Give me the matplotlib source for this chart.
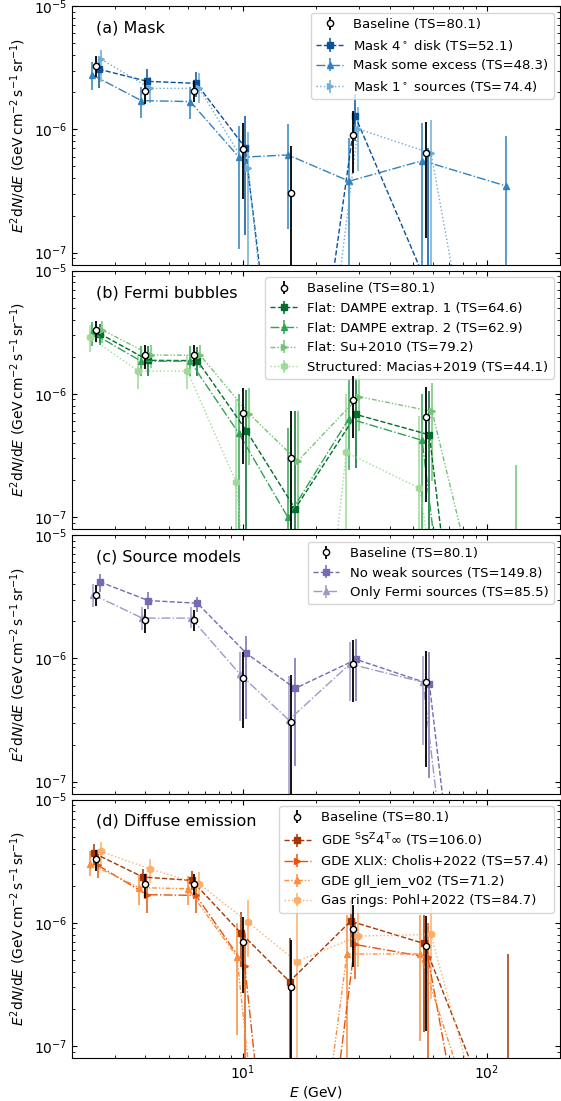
import numpy as np
import matplotlib
matplotlib.use("Agg")
import matplotlib.pyplot as plt

# ─── Data ───
# energy bin centres (GeV)
energy = [2.51, 3.98, 6.31, 10.0, 15.85, 28.2, 56.2, 124.0]

# baseline (shown in every panel)
base_val = [3.28e-6, 2.05e-6, 2.06e-6, 6.97e-7, 3.03e-7, 8.94e-7, 6.43e-7, 1e-12]
base_lo = [2.64e-6, 1.60e-6, 1.68e-6, 2.70e-7, 1e-9, 4.40e-7, 1.32e-7, 1e-12]
base_hi = [3.93e-6, 2.51e-6, 2.48e-6, 1.12e-6, 7.30e-7, 1.40e-6, 1.14e-6, 1e-12]

# (a) Mask
mask4_val = [3.08e-6, 2.45e-6, 2.36e-6, 7.10e-7, 3.6e-10, 1.28e-6, 5.2e-8, 1e-12]
mask4_lo = [2.17e-6, 1.90e-6, 1.84e-6, 1.40e-7, 1e-12, 8.0e-7, 1e-12, 1e-12]
mask4_hi = [3.88e-6, 3.08e-6, 2.93e-6, 1.28e-6, 3.6e-10, 1.95e-6, 7.0e-7, 1e-12]

excess_val = [2.76e-6, 1.71e-6, 1.68e-6, 5.93e-7, 6.20e-7, 3.80e-7, 5.57e-7, 3.47e-7]
excess_lo = [2.09e-6, 1.23e-6, 1.22e-6, 1.08e-7, 1.55e-7, 1e-9, 1e-9, 1e-9]
excess_hi = [3.50e-6, 2.20e-6, 2.20e-6, 1.06e-6, 1.10e-6, 8.5e-7, 1.13e-6, 8.8e-7]

src1_val = [3.70e-6, 2.15e-6, 2.15e-6, 4.83e-7, 1e-10, 1.01e-6, 6.38e-7, 1.1e-10]
src1_lo = [2.40e-6, 1.63e-6, 1.63e-6, 1e-9, 1e-12, 4.6e-7, 1e-9, 1e-12]
src1_hi = [4.40e-6, 2.65e-6, 2.85e-6, 9.6e-7, 1e-10, 1.53e-6, 1.19e-6, 1.1e-10]

# (b) Fermi bubbles
damp1_val = [3.08e-6, 1.87e-6, 1.86e-6, 5.04e-7, 1.17e-7, 6.80e-7, 4.65e-7, 1e-12]
damp1_lo = [2.50e-6, 1.39e-6, 1.39e-6, 1e-9, 1e-9, 2.5e-7, 1e-9, 1e-12]
damp1_hi = [3.70e-6, 2.44e-6, 2.40e-6, 1.08e-6, 7.2e-7, 1.35e-6, 1.05e-6, 1e-12]

damp2_val = [3.12e-6, 1.84e-6, 1.84e-6, 4.77e-7, 1.00e-7, 6.30e-7, 4.20e-7, 1e-12]
damp2_lo = [2.45e-6, 1.39e-6, 1.39e-6, 1e-9, 1e-9, 2.4e-7, 1e-9, 1e-12]
damp2_hi = [3.80e-6, 2.44e-6, 2.44e-6, 9.9e-7, 5.3e-7, 1.30e-6, 9.9e-7, 1e-12]

su_val = [3.30e-6, 2.06e-6, 2.06e-6, 6.90e-7, 2.85e-7, 9.50e-7, 7.20e-7, 1.1e-9]
su_lo = [2.60e-6, 1.63e-6, 1.63e-6, 2.67e-7, 1e-9, 5.0e-7, 1.96e-7, 1e-12]
su_hi = [3.88e-6, 2.51e-6, 2.51e-6, 1.12e-6, 7.2e-7, 1.43e-6, 1.23e-6, 2.67e-7]

macias_val = [2.88e-6, 1.53e-6, 1.53e-6, 1.92e-7, 1e-11, 3.35e-7, 1.72e-7, 1e-11]
macias_lo = [2.20e-6, 1.10e-6, 1.10e-6, 1e-9, 1e-12, 1e-9, 1e-9, 1e-12]
macias_hi = [3.65e-6, 2.10e-6, 2.05e-6, 9.0e-7, 1e-11, 1.0e-6, 6.6e-7, 1e-11]

# (c) Source models
noweak_val = [4.18e-6, 2.94e-6, 2.80e-6, 1.10e-6, 5.70e-7, 9.80e-7, 6.20e-7, 1e-12]
noweak_lo = [3.43e-6, 2.50e-6, 2.36e-6, 3.20e-7, 1.35e-7, 4.5e-7, 1.08e-7, 1e-12]
noweak_hi = [4.80e-6, 3.43e-6, 3.15e-6, 1.53e-6, 1.00e-6, 1.43e-6, 1.12e-6, 1e-12]

onlyf_val = [3.28e-6, 2.12e-6, 2.12e-6, 7.45e-7, 3.16e-7, 9.00e-7, 6.40e-7, 1e-12]
onlyf_lo = [2.60e-6, 1.70e-6, 1.75e-6, 3.10e-7, 1e-9, 4.5e-7, 2.0e-7, 1e-12]
onlyf_hi = [3.98e-6, 2.60e-6, 2.60e-6, 1.12e-6, 7.2e-7, 1.35e-6, 1.05e-6, 1e-12]

# (d) Diffuse emission
sz_val = [3.67e-6, 2.35e-6, 2.21e-6, 8.30e-7, 3.34e-7, 1.03e-6, 6.80e-7, 1.3e-8]
sz_lo = [2.92e-6, 1.90e-6, 1.85e-6, 4.40e-7, 1e-9, 6.4e-7, 1.3e-7, 1e-12]
sz_hi = [4.37e-6, 2.75e-6, 2.65e-6, 1.23e-6, 7.5e-7, 1.52e-6, 1.15e-6, 5.6e-7]

xlix_val = [2.92e-6, 1.69e-6, 1.67e-6, 4.50e-7, 8e-11, 6.68e-7, 5.25e-7, 1e-10]
xlix_lo = [2.30e-6, 1.20e-6, 1.20e-6, 1e-9, 1e-12, 3.5e-7, 1e-9, 1e-12]
xlix_hi = [3.60e-6, 2.20e-6, 2.10e-6, 8.2e-7, 8e-11, 1.0e-6, 1.0e-6, 1e-10]

gll_val = [3.00e-6, 1.93e-6, 1.89e-6, 5.32e-7, 1e-10, 5.59e-7, 5.59e-7, 4.5e-9]
gll_lo = [2.40e-6, 1.40e-6, 1.40e-6, 1.24e-7, 1e-12, 1e-9, 1.1e-7, 1e-12]
gll_hi = [3.80e-6, 2.45e-6, 2.40e-6, 1.00e-6, 1e-10, 1.15e-6, 1.15e-6, 4.5e-9]

gas_val = [3.79e-6, 2.74e-6, 2.08e-6, 1.02e-6, 4.84e-7, 7.80e-7, 8.05e-7, 2.7e-9]
gas_lo = [2.90e-6, 2.10e-6, 1.60e-6, 5.30e-7, 1e-9, 4.4e-7, 2.4e-7, 1e-12]
gas_hi = [4.50e-6, 3.30e-6, 2.60e-6, 1.52e-6, 1.60e-6, 1.45e-6, 1.45e-6, 2.7e-9]

base_label = 'Baseline (TS=80.1)'

# line styles per series slot
ls_dash = '--'
ls_dashdot = (0, (6.4, 1.6, 1.0, 1.6))
ls_dashdotdot = (0, (3.5, 1.4, 1.0, 1.4, 1.0, 1.4))
ls_dot = ':'

panels = [
    ('(a) Mask', [
        (mask4_val, mask4_lo, mask4_hi, r'Mask 4$^\circ$ disk (TS=52.1)', '#08519c', 's', ls_dash, 1.025),
        (excess_val, excess_lo, excess_hi, 'Mask some excess (TS=48.3)', '#3182bd', '^', ls_dashdot, 0.968),
        (src1_val, src1_lo, src1_hi, r'Mask 1$^\circ$ sources (TS=74.4)', '#6baed6', '>', ls_dot, 1.052),
    ]),
    ('(b) Fermi bubbles', [
        (damp1_val, damp1_lo, damp1_hi, 'Flat: DAMPE extrap. 1 (TS=64.6)', '#006d2c', 's', ls_dash, 1.035),
        (damp2_val, damp2_lo, damp2_hi, 'Flat: DAMPE extrap. 2 (TS=62.9)', '#31a354', '^', ls_dashdot, 0.966),
        (su_val, su_lo, su_hi, 'Flat: Su+2010 (TS=79.2)', '#74c476', '>', ls_dashdotdot, 1.062),
        (macias_val, macias_lo, macias_hi, 'Structured: Macias+2019 (TS=44.1)', '#a1d99b', 'h', ls_dot, 0.942),
    ]),
    ('(c) Source models', [
        (noweak_val, noweak_lo, noweak_hi, 'No weak sources (TS=149.8)', '#756bb1', 's', ls_dash, 1.035),
        (onlyf_val, onlyf_lo, onlyf_hi, 'Only Fermi sources (TS=85.5)', '#9e9ac8', '^', ls_dashdot, 0.975),
    ]),
    ('(d) Diffuse emission', [
        (sz_val, sz_lo, sz_hi, r'GDE $^{\rm S}$S$^{\rm Z}$4$^{\rm T}\infty$ (TS=106.0)', '#a63603', 's', ls_dash, 0.982),
        (xlix_val, xlix_lo, xlix_hi, 'GDE XLIX: Cholis+2022 (TS=57.4)', '#e6550d', '>', ls_dashdot, 1.021),
        (gll_val, gll_lo, gll_hi, 'GDE gll_iem_v02 (TS=71.2)', '#fd8d3c', '^', ls_dashdotdot, 0.948),
        (gas_val, gas_lo, gas_hi, 'Gas rings: Pohl+2022 (TS=84.7)', '#fdae6b', 'h', ls_dot, 1.049),
    ]),
]


def draw_series(ax, x, val, lo, hi, **kw):
    val = np.asarray(val)
    yerr = [val - np.asarray(lo), np.asarray(hi) - val]
    return ax.errorbar(x, val, yerr=yerr, **kw)


fig, axes = plt.subplots(4, 1, figsize=(5.61, 11.01), dpi=100, sharex=True)
fig.subplots_adjust(left=0.128, right=0.999, top=0.9945, bottom=0.039, hspace=0.023)

E = np.asarray(energy)
for ax, (title, series) in zip(axes, panels):
    ax.set_xscale('log')
    ax.set_yscale('log')

    handles = []
    h = draw_series(ax, E, base_val, base_lo, base_hi, fmt='o', color='k',
                    mfc='white', mec='k', ms=4.5, mew=1.0, elinewidth=1.3,
                    zorder=10, label=base_label)
    handles.append(h)
    for val, lo, hi, label, color, marker, ls, dodge in series:
        h = draw_series(ax, E * dodge, val, lo, hi, color=color, marker=marker,
                        ms=5, ls=ls, lw=1.0, elinewidth=1.3, label=label)
        h[2][0].set_alpha(0.85)
        handles.append(h)

    ax.set_xlim(2, 200)
    ax.set_ylim(8e-8, 1e-5)
    ax.tick_params(which='both', direction='in', top=True, right=True, labelsize=10)
    ax.text(0.05, 0.915, title, transform=ax.transAxes, fontsize=11.5,
            va='center', ha='left')
    ax.legend(handles=handles, loc='upper right', fontsize=9.5)
    ax.set_ylabel(r'$E^2\mathrm{d}N/\mathrm{d}E$ ($\mathrm{GeV\,cm^{-2}\,s^{-1}\,sr^{-1}}$)',
                  fontsize=10)

axes[-1].set_xlabel(r'$E$ (GeV)', fontsize=10, labelpad=2)

plt.savefig('out.png', dpi=100)
